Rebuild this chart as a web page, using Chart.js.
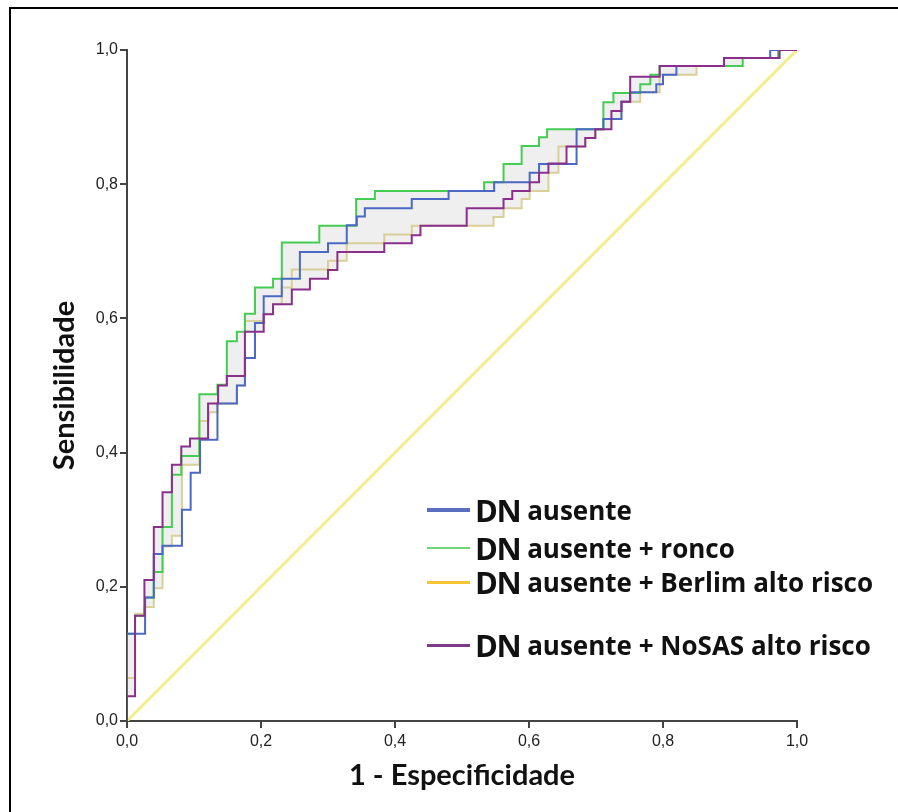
<!DOCTYPE html>
<html>
<head>
<meta charset="utf-8">
<script src="https://cdn.jsdelivr.net/npm/chart.js@4/dist/chart.umd.min.js"></script>
<style>
  body { margin:0; background:#fff; width:898px; height:812px; overflow:hidden; position:relative; }
  #frame { position:absolute; left:9px; top:7px; width:920px; height:840px; border:2px solid #000; box-sizing:border-box; pointer-events:none; }
  #chart { position:absolute; left:0; top:0; }
  .lg-row { position:absolute; left:427px; height:36px; display:flex; align-items:center; font-family:"Open Sans", sans-serif; font-weight:bold; color:#111; white-space:nowrap; }
  .lg-sw { width:43px; margin-right:5px; }
  .lg-dn { font-size:31px; margin-right:7px; letter-spacing:-1.5px; }
  .lg-rest { font-size:26px; }
</style>
</head>
<body>
<canvas id="chart" width="898" height="812"></canvas>
<div id="legend"></div>
<div id="frame"></div>
<script>
// ── ROC curves: DN ausente (+ questionários) ──

// series labels
const SERIES = ['DN ausente', 'DN ausente + ronco', 'DN ausente + Berlim alto risco', 'DN ausente + NoSAS alto risco'];

// [1 - especificidade, sensibilidade] at each step of the curve
const dnAusente = [
  [0,0],[0,0.13],[0.027,0.184],[0.04,0.249],[0.053,0.261],[0.082,0.315],[0.095,0.37],[0.109,0.419],
  [0.135,0.473],[0.164,0.5],[0.176,0.541],[0.191,0.593],[0.204,0.633],[0.231,0.659],[0.258,0.699],
  [0.3,0.712],[0.328,0.739],[0.343,0.752],[0.355,0.764],[0.425,0.778],[0.48,0.79],[0.548,0.803],
  [0.601,0.817],[0.615,0.83],[0.671,0.882],[0.711,0.897],[0.738,0.923],[0.751,0.937],[0.79,0.949],
  [0.8,0.963],[0.82,0.976],[0.891,0.988],[0.96,1],[1,1]
];
const dnRonco = [
  [0,0],[0,0.13],[0.012,0.157],[0.027,0.184],[0.04,0.222],[0.053,0.289],[0.067,0.367],[0.081,0.395],
  [0.108,0.487],[0.135,0.501],[0.149,0.566],[0.164,0.58],[0.176,0.607],[0.191,0.646],[0.218,0.659],
  [0.231,0.713],[0.287,0.738],[0.342,0.778],[0.37,0.79],[0.533,0.803],[0.562,0.83],[0.589,0.857],
  [0.615,0.87],[0.627,0.882],[0.711,0.922],[0.726,0.936],[0.766,0.949],[0.781,0.963],[0.795,0.976],
  [0.919,0.988],[0.972,1],[1,1]
];
const dnBerlim = [
  [0,0],[0,0.064],[0.012,0.16],[0.026,0.17],[0.04,0.198],[0.053,0.26],[0.067,0.276],[0.082,0.382],
  [0.108,0.447],[0.122,0.46],[0.135,0.473],[0.164,0.5],[0.176,0.596],[0.204,0.607],[0.218,0.621],
  [0.231,0.646],[0.246,0.673],[0.3,0.686],[0.328,0.712],[0.384,0.725],[0.425,0.738],[0.547,0.751],
  [0.562,0.764],[0.589,0.778],[0.601,0.79],[0.629,0.817],[0.644,0.856],[0.684,0.869],[0.699,0.882],
  [0.711,0.897],[0.738,0.923],[0.766,0.937],[0.795,0.963],[0.85,0.976],[0.891,0.988],[0.972,1],[1,1]
];
const dnNosas = [
  [0,0],[0,0.037],[0.012,0.157],[0.026,0.21],[0.04,0.289],[0.053,0.341],[0.067,0.382],[0.081,0.409],
  [0.094,0.421],[0.121,0.473],[0.136,0.5],[0.149,0.514],[0.176,0.58],[0.204,0.606],[0.218,0.621],
  [0.246,0.643],[0.273,0.659],[0.3,0.672],[0.314,0.699],[0.384,0.712],[0.425,0.724],[0.438,0.738],
  [0.507,0.764],[0.562,0.778],[0.575,0.79],[0.601,0.803],[0.615,0.817],[0.629,0.831],[0.656,0.856],
  [0.684,0.869],[0.699,0.882],[0.723,0.909],[0.738,0.923],[0.751,0.96],[0.795,0.976],[0.891,0.988],
  [0.974,1],[1,1]
];
// reference line
const diagonal = [[0,0],[1,1]];

// axis ticks
const TICKS = [0, 0.2, 0.4, 0.6, 0.8, 1.0];

// colours
const LINE_COLORS = ['#4b68c4', '#45cc52', '#d9d099', '#8a2f8c'];
const SWATCH_COLORS = ['#5a6fc0', '#6fd67a', '#f6c533', '#7d3a88'];
const SWATCH_WIDTHS = [4, 2, 3, 3];
const LEGEND_Y = [510, 548, 582, 645];

const xy = arr => arr.map(([x, y]) => ({ x, y }));
const fmt = v => Number(v).toFixed(1).replace('.', ',');

const curves = [dnAusente, dnRonco, dnBerlim, dnNosas];
const datasets = curves.map((c, i) => ({
  label: SERIES[i], data: xy(c),
  borderColor: LINE_COLORS[i], borderWidth: 2,
  stepped: 'before', pointRadius: 0, fill: false,
  order: [1, 2, 3, 0][i]
}));
// light grey band between the curves
datasets[1].fill = { target: 3 };
datasets[1].backgroundColor = '#efefef';
datasets[2].fill = { target: 1 };
datasets[2].backgroundColor = '#efefef';
datasets.push({
  label: 'ref', data: xy(diagonal), borderColor: '#f3ed8a', borderWidth: 3,
  pointRadius: 0, fill: false, order: 5
});

const axisColor = '#444';
const tickFont = { family: "'Liberation Sans Narrow', 'Liberation Sans', sans-serif", size: 16 };
const titleFont = { family: 'Lato', size: 29, weight: 'bold' };

new Chart(document.getElementById('chart'), {
  type: 'line',
  data: { datasets },
  options: {
    responsive: false, animation: false,
    layout: { padding: { left: 0, top: 50, right: 101, bottom: 0 } },
    plugins: { legend: { display: false }, tooltip: { enabled: false }, filler: { drawTime: 'beforeDatasetsDraw' } },
    scales: {
      x: {
        type: 'linear', min: 0, max: 1,
        afterBuildTicks: s => { s.ticks = TICKS.map(v => ({ value: v })); },
        ticks: { callback: fmt, font: tickFont, color: '#222', padding: 4, maxRotation: 0 },
        grid: { drawOnChartArea: false, tickLength: 7, color: axisColor, lineWidth: 2 },
        border: { color: axisColor, width: 2 },
        title: { display: true, text: '1 - Especificidade', font: titleFont, color: '#111', padding: { top: 0, bottom: 19 } },
        afterFit: s => { s.height = 812 - 721; }
      },
      y: {
        type: 'linear', min: 0, max: 1,
        afterBuildTicks: s => { s.ticks = TICKS.map(v => ({ value: v })); },
        ticks: { callback: fmt, font: tickFont, color: '#222', padding: 2 },
        grid: { drawOnChartArea: false, tickLength: 7, color: axisColor, lineWidth: 2 },
        border: { color: axisColor, width: 2 },
        title: { display: true, text: 'Sensibilidade', font: titleFont, color: '#111', padding: { top: 47, bottom: 0 } },
        afterFit: s => { s.width = 127; }
      }
    }
  }
});

// HTML legend built from the series
const legend = document.getElementById('legend');
SERIES.forEach((name, i) => {
  const row = document.createElement('div');
  row.className = 'lg-row';
  row.style.top = (LEGEND_Y[i] - 18) + 'px';
  const rest = name.replace(/^DN /, '');
  row.innerHTML = `<span class="lg-sw" style="height:${SWATCH_WIDTHS[i]}px;background:${SWATCH_COLORS[i]}"></span>` +
    `<span class="lg-dn">DN</span><span class="lg-rest">${rest}</span>`;
  legend.appendChild(row);
});
</script>
</body>
</html>
